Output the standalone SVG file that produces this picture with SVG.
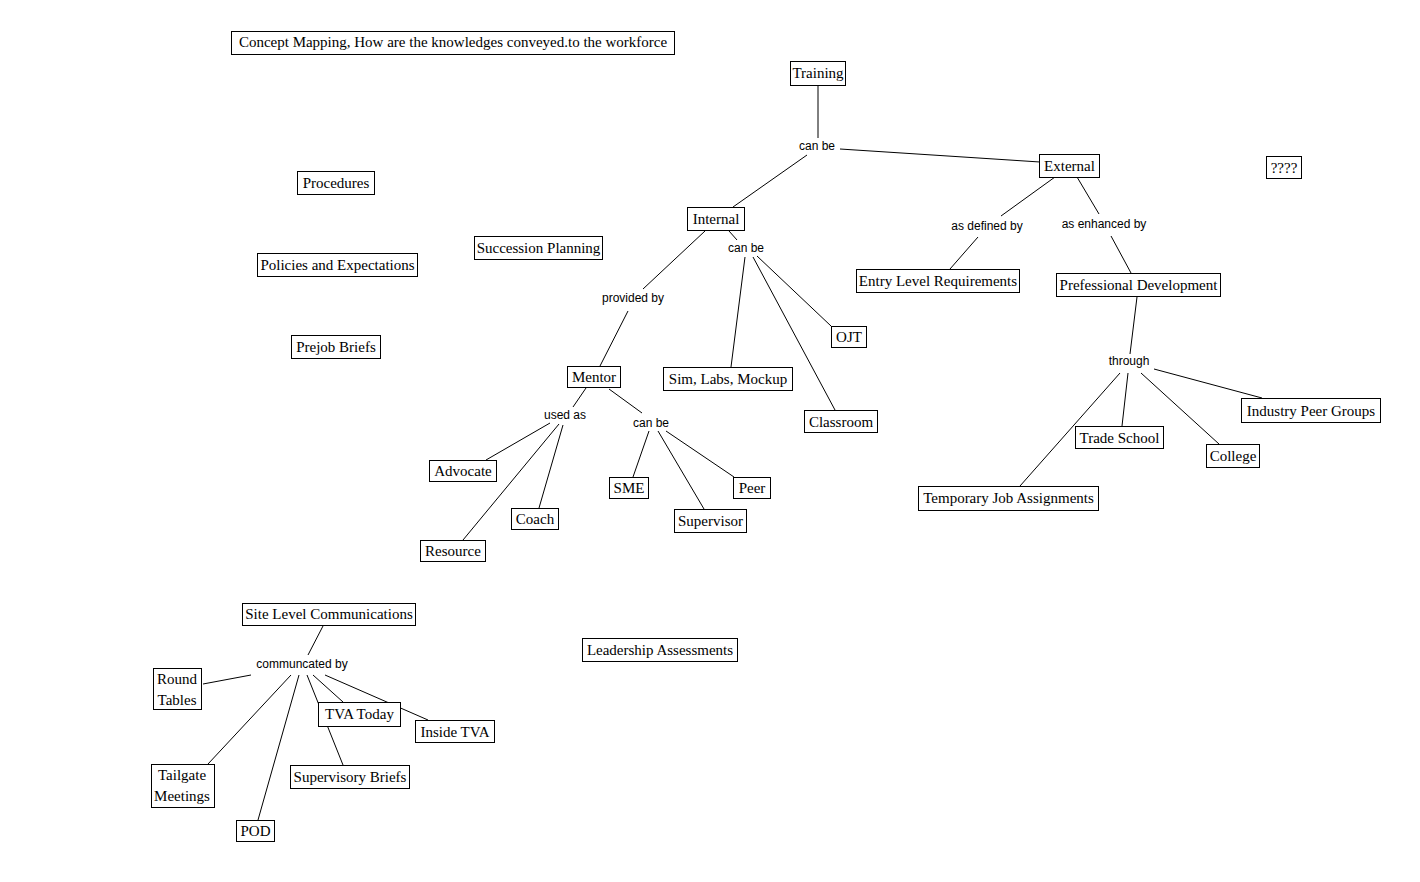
<svg xmlns="http://www.w3.org/2000/svg" width="1420" height="882" viewBox="0 0 1420 882">
<style>
.n rect{fill:#fff;stroke:#000;stroke-width:1}
.n text{font-family:"Liberation Serif","Times New Roman",serif;font-size:15px;fill:#000;text-anchor:middle}
.l{font-family:"Liberation Sans",Arial,sans-serif;font-size:12px;fill:#000;text-anchor:middle}
#connectors line{stroke:#000;stroke-width:1}
</style>
<rect width="1420" height="882" fill="#fff"/>
<g id="connectors">
<line x1="818" y1="85" x2="818" y2="138"/>
<line x1="840" y1="149" x2="1040" y2="162"/>
<line x1="807" y1="155" x2="733" y2="207"/>
<line x1="729" y1="231" x2="737" y2="240"/>
<line x1="705" y1="231" x2="643" y2="289"/>
<line x1="628" y1="311" x2="600" y2="366"/>
<line x1="745" y1="257" x2="731" y2="367"/>
<line x1="753" y1="257" x2="835" y2="410"/>
<line x1="757" y1="256" x2="831" y2="326"/>
<line x1="586" y1="388" x2="573" y2="407"/>
<line x1="609" y1="389" x2="642" y2="413"/>
<line x1="550" y1="423" x2="486" y2="460"/>
<line x1="559" y1="424" x2="463" y2="540"/>
<line x1="563" y1="425" x2="539" y2="508"/>
<line x1="649" y1="431" x2="633" y2="477"/>
<line x1="658" y1="431" x2="704" y2="509"/>
<line x1="666" y1="431" x2="734" y2="477"/>
<line x1="1055" y1="177" x2="1001" y2="216"/>
<line x1="978" y1="237" x2="950" y2="269"/>
<line x1="1077" y1="177" x2="1099" y2="214"/>
<line x1="1111" y1="236" x2="1131" y2="273"/>
<line x1="1137" y1="297" x2="1130" y2="354"/>
<line x1="1120" y1="373" x2="1020" y2="486"/>
<line x1="1128" y1="373" x2="1122" y2="426"/>
<line x1="1141" y1="373" x2="1219" y2="444"/>
<line x1="1154" y1="369" x2="1262" y2="398"/>
<line x1="323" y1="626" x2="308" y2="655"/>
<line x1="251" y1="675" x2="203" y2="684"/>
<line x1="291" y1="675" x2="208" y2="764"/>
<line x1="299" y1="675" x2="258" y2="820"/>
<line x1="307" y1="675" x2="343" y2="765"/>
<line x1="313" y1="675" x2="343" y2="702"/>
<line x1="325" y1="675" x2="428" y2="720"/>
</g>
<g id="labels">
<text class="l" x="817" y="150">can be</text>
<text class="l" x="746" y="252">can be</text>
<text class="l" x="633" y="302">provided by</text>
<text class="l" x="565" y="419">used as</text>
<text class="l" x="651" y="427">can be</text>
<text class="l" x="987" y="230">as defined by</text>
<text class="l" x="1104" y="228">as enhanced by</text>
<text class="l" x="1129" y="365">through</text>
<text class="l" x="302" y="668">communcated by</text>
</g>
<g id="title" class="n"><rect x="231.5" y="31.5" width="443" height="23"/><text x="453" y="47">Concept Mapping, How are the knowledges conveyed.to the workforce</text></g>
<g id="training" class="n"><rect x="790.5" y="61.5" width="55" height="24"/><text x="818" y="78">Training</text></g>
<g id="external" class="n"><rect x="1039.5" y="154.5" width="60" height="23"/><text x="1069.5" y="171">External</text></g>
<g id="internal" class="n"><rect x="687.5" y="207.5" width="57" height="23"/><text x="716" y="224">Internal</text></g>
<g id="q" class="n"><rect x="1266.5" y="156.5" width="35" height="22"/><text x="1284" y="173">????</text></g>
<g id="procedures" class="n"><rect x="297.5" y="171.5" width="77" height="23"/><text x="336" y="188">Procedures</text></g>
<g id="policies" class="n"><rect x="257.5" y="253.5" width="160" height="23"/><text x="337.5" y="270">Policies and Expectations</text></g>
<g id="succession" class="n"><rect x="474.5" y="236.5" width="128" height="23"/><text x="538.5" y="253">Succession Planning</text></g>
<g id="prejob" class="n"><rect x="291.5" y="335.5" width="89" height="23"/><text x="336" y="352">Prejob Briefs</text></g>
<g id="mentor" class="n"><rect x="567.5" y="366.5" width="53" height="21"/><text x="594" y="382">Mentor</text></g>
<g id="sim" class="n"><rect x="663.5" y="367.5" width="129" height="23"/><text x="728" y="384">Sim, Labs, Mockup</text></g>
<g id="ojt" class="n"><rect x="831.5" y="326.5" width="35" height="21"/><text x="849" y="342">OJT</text></g>
<g id="classroom" class="n"><rect x="804.5" y="410.5" width="73" height="22"/><text x="841" y="427">Classroom</text></g>
<g id="advocate" class="n"><rect x="429.5" y="460.5" width="67" height="21"/><text x="463" y="476">Advocate</text></g>
<g id="coach" class="n"><rect x="511.5" y="508.5" width="47" height="21"/><text x="535" y="524">Coach</text></g>
<g id="resource" class="n"><rect x="420.5" y="540.5" width="65" height="21"/><text x="453" y="556">Resource</text></g>
<g id="sme" class="n"><rect x="609.5" y="477.5" width="39" height="21"/><text x="629" y="493">SME</text></g>
<g id="peer" class="n"><rect x="733.5" y="477.5" width="37" height="21"/><text x="752" y="493">Peer</text></g>
<g id="supervisor" class="n"><rect x="674.5" y="509.5" width="72" height="23"/><text x="710.5" y="526">Supervisor</text></g>
<g id="entry" class="n"><rect x="856.5" y="269.5" width="163" height="23"/><text x="938" y="286">Entry Level Requirements</text></g>
<g id="profdev" class="n"><rect x="1056.5" y="273.5" width="164" height="23"/><text x="1138.5" y="290">Prefessional Development</text></g>
<g id="industry" class="n"><rect x="1241.5" y="398.5" width="139" height="24"/><text x="1311" y="416">Industry Peer Groups</text></g>
<g id="trade" class="n"><rect x="1075.5" y="426.5" width="88" height="22"/><text x="1119.5" y="443">Trade School</text></g>
<g id="college" class="n"><rect x="1206.5" y="444.5" width="53" height="23"/><text x="1233" y="461">College</text></g>
<g id="temporary" class="n"><rect x="918.5" y="486.5" width="180" height="24"/><text x="1008.5" y="503">Temporary Job Assignments</text></g>
<g id="site" class="n"><rect x="242.5" y="603.5" width="173" height="22"/><text x="329" y="619">Site Level Communications</text></g>
<g id="roundtables" class="n"><rect x="153.5" y="668.5" width="48" height="41"/><text x="177" y="684">Round</text><text x="177" y="705">Tables</text></g>
<g id="tailgate" class="n"><rect x="151.5" y="764.5" width="63" height="43"/><text x="182" y="780">Tailgate</text><text x="182" y="801">Meetings</text></g>
<g id="pod" class="n"><rect x="236.5" y="820.5" width="38" height="21"/><text x="255.5" y="836">POD</text></g>
<g id="tvatoday" class="n"><rect x="318.5" y="702.5" width="82" height="24"/><text x="359.5" y="719">TVA Today</text></g>
<g id="insidetva" class="n"><rect x="415.5" y="720.5" width="79" height="22"/><text x="455" y="737">Inside TVA</text></g>
<g id="supbriefs" class="n"><rect x="290.5" y="765.5" width="119" height="23"/><text x="350" y="782">Supervisory Briefs</text></g>
<g id="leadership" class="n"><rect x="582.5" y="638.5" width="155" height="23"/><text x="660" y="655">Leadership Assessments</text></g>
</svg>
